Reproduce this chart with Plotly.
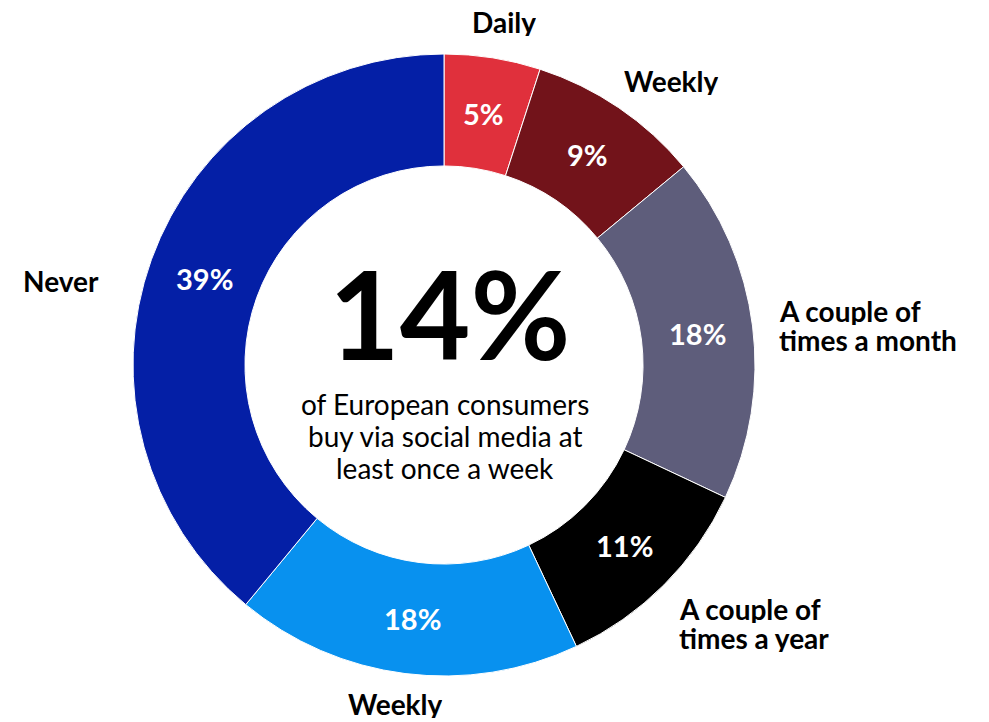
import math
import plotly.graph_objects as go

# Purchase frequency via social media (share of European consumers)
categories = [["Daily"], ["Weekly"], ["A couple of", "times a month"], ["A couple of", "times a year"], ["Weekly"], ["Never"]]
values = [5, 9, 18, 11, 18, 39]
colors = ["#e0303c", "#72131a", "#5e5d7b", "#000000", "#0891ef", "#041fa6"]

headline = "14%"
subline = ["of European consumers", "buy via social media at", "least once a week"]

# label placement tweaks (radius factor, angle shift in degrees, anchor)
label_r = [1.12, 1.08, 1.08, 1.12, 1.10, 1.14]
label_dang = [1.0, -2.0, 0.4, 2.7, 1.0, -6.0]
label_anchor = ["center", "left", "left", "left", "center", "right"]

W, H = 989, 722
cx, cy, R = 444, 365, 311
hole = 0.64
FONT = "Lato"


def text_lines(lines, x, y, size, gap, color, bold, anchor):
    """Stack lines as separate annotations centred vertically on (x, y) in px."""
    out = []
    n = len(lines)
    for k, line in enumerate(lines):
        yy = y + (k - (n - 1) / 2) * gap
        out.append(dict(
            x=x / W, y=1 - yy / H, xref="paper", yref="paper", showarrow=False,
            text=f"<b>{line}</b>" if bold else line,
            font=dict(family=FONT, size=size, color=color),
            xanchor=anchor, yanchor="middle",
            height=gap if gap else None, borderpad=0,
        ))
    return out


fig = go.Figure(go.Pie(
    values=values,
    labels=[f"s{i}" for i in range(len(values))],
    marker=dict(colors=colors, line=dict(color="white", width=1)),
    hole=hole,
    sort=False,
    direction="clockwise",
    rotation=0,
    textinfo="none",
    hoverinfo="skip",
    showlegend=False,
    domain=dict(x=[(cx - R) / W, (cx + R) / W], y=[(H - cy - R) / H, (H - cy + R) / H]),
))

total = sum(values)
annotations = []
cum = 0
for i, v in enumerate(values):
    mid = (cum + v / 2) / total * 360
    cum += v
    rad = math.radians(mid)
    # percentage inside the ring
    rm = R * (1 + hole) / 2
    px, py = cx + rm * math.sin(rad), cy - rm * math.cos(rad)
    annotations += text_lines([f"{v}%"], px, py, 29, 0, "white", True, "center")
    # category name outside the ring
    ra = math.radians(mid + label_dang[i])
    rr = R * label_r[i]
    lx, ly = cx + rr * math.sin(ra), cy - rr * math.cos(ra)
    annotations += text_lines(categories[i], lx, ly, 28, 29, "black", True, label_anchor[i])

annotations += text_lines([headline], 450, 313, 122, 0, "black", True, "center")
annotations += text_lines(subline, 445, 436, 28, 32, "black", False, "center")

fig.update_layout(
    width=W, height=H,
    margin=dict(l=0, r=0, t=0, b=0),
    paper_bgcolor="white", plot_bgcolor="white",
    annotations=annotations,
)

fig.write_html("out.html")
